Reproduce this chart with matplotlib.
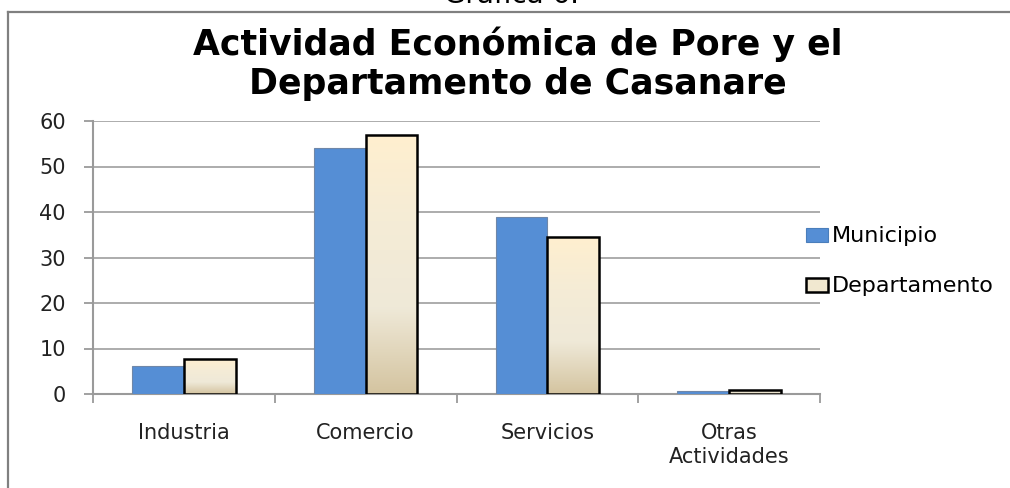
import numpy as np
import matplotlib
matplotlib.use("Agg")
import matplotlib.pyplot as plt
from matplotlib.patches import Patch
from matplotlib.lines import Line2D
from matplotlib.colors import LinearSegmentedColormap

categories = ["Industria", "Comercio", "Servicios", "Otras\nActividades"]
municipio = [6.1, 54.1, 39.0, 0.6]
departamento = [7.8, 57.0, 34.5, 0.9]
series_names = ["Municipio", "Departamento"]
yticks = [0, 10, 20, 30, 40, 50, 60]
title = "Actividad Económica de Pore y el\nDepartamento de Casanare"
caption = "Gráfica 6."

W, H = 1010, 488
fig = plt.figure(figsize=(W / 100, H / 100), dpi=100)
fig.patch.set_facecolor("white")

ax = fig.add_axes([93 / W, 1 - 394 / H, (820 - 93) / W, (394 - 121) / H])
x = np.arange(len(categories))
bw = 0.285
blue = "#558ED5"
grad_cmap = LinearSegmentedColormap.from_list(
    "cream", ["#D4C4A0", "#EFE9D8", "#F5ECD6", "#FFEFCF"])

ax.set_xlim(-0.5, len(categories) - 0.5)
ax.set_ylim(0, 60)

bars_m = ax.bar(x - bw / 2, municipio, bw, color=blue, edgecolor="#6F87A8",
                linewidth=0.8, zorder=3)
bars_d = ax.bar(x + bw / 2, departamento, bw, color="none", edgecolor="black",
                linewidth=1.8, zorder=4)
grad = np.linspace(0, 1, 256).reshape(-1, 1)
for b in bars_d:
    x0, w, h = b.get_x(), b.get_width(), b.get_height()
    im = ax.imshow(grad, cmap=grad_cmap, origin="lower", aspect="auto",
                   extent=(x0, x0 + w, 0, h), zorder=3.5, interpolation="bilinear")
    im.set_clip_path(b)
ax.set_xlim(-0.5, len(categories) - 0.5)
ax.set_ylim(0, 60)

ax.set_yticks(yticks)
ax.set_yticklabels([str(v) for v in yticks])
ax.yaxis.grid(True, color="#A6A6A6", linewidth=1.3, zorder=0)
ax.set_axisbelow(True)
for s in ["top", "right"]:
    ax.spines[s].set_visible(False)
for s in ["left", "bottom"]:
    ax.spines[s].set_color("#9A9A9A")
    ax.spines[s].set_linewidth(1.5)

ax.tick_params(axis="y", direction="out", length=6.5, width=1.3, color="#9A9A9A",
               pad=13, labelsize=15, labelcolor="#222222")
ax.set_xticks(x)
ax.set_xticklabels(categories, fontsize=15, color="#222222", linespacing=1.25)
ax.set_xticks(np.arange(-0.5, len(categories)), minor=True)
ax.tick_params(axis="x", which="major", length=0, pad=21)
ax.tick_params(axis="x", which="minor", direction="out", length=6.5, width=1.3,
               color="#9A9A9A")
for lab in ax.get_yticklabels() + ax.get_xticklabels():
    lab.set_family("DejaVu Sans")

fig.text(518 / W, 1 - 64 / H, title, ha="center", va="center", fontsize=25,
         fontweight="bold", family="DejaVu Sans", linespacing=1.18, color="black")
fig.text(512 / W, 1 - 3 / H, caption, ha="center", va="baseline", fontsize=20,
         family="DejaVu Sans", color="black")

handles = [Patch(facecolor=blue, edgecolor="#4A7EBB", linewidth=0.8),
           Patch(facecolor="#F1E8D0", edgecolor="black", linewidth=1.8)]
fig.legend(handles, series_names, loc="center left",
           bbox_to_anchor=(806 / W, 1 - 261.5 / H), frameon=False,
           fontsize=16, labelspacing=1.35, handlelength=1.0, handleheight=0.6,
           handletextpad=0.15, borderpad=0, borderaxespad=0)

fig.add_artist(Line2D([8 / W, 1.0], [1 - 12 / H, 1 - 12 / H],
                      transform=fig.transFigure, color="#808080", linewidth=1.6))
fig.add_artist(Line2D([8 / W, 8 / W], [1 - 12 / H, 0.0],
                      transform=fig.transFigure, color="#808080", linewidth=1.6))

fig.savefig("out.png", dpi=100)
